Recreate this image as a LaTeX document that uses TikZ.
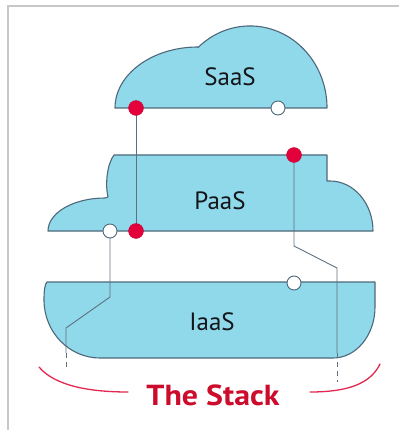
\documentclass[tikz,border=0pt]{standalone}
\usepackage{fontspec}
\setmainfont{PT Sans}
\begin{document}
\begin{tikzpicture}[x=1pt,y=1pt,
  layer/.style={fill=cloudblue, draw=outline, line width=1.1pt, line join=round},
  link/.style={draw=linkgray, line width=0.9pt},
  linkdash/.style={draw=linkgray, line width=0.9pt, dash pattern=on 5pt off 4pt},
  reddot/.style={circle, fill=dotred, draw=dotred!80!black, line width=0.3pt, minimum size=15pt, inner sep=0pt},
  whitedot/.style={circle, fill=white, draw=outline, line width=0.9pt, minimum size=14pt, inner sep=0pt},
  lbl/.style={text=labelblack, font=\fontsize{25}{28}\selectfont},
  brace/.style={draw=bracered, line width=1.3pt, line cap=round}]
\definecolor{cloudblue}{RGB}{143,217,234}
\definecolor{outline}{RGB}{78,104,122}
\definecolor{linkgray}{RGB}{96,112,126}
\definecolor{dotred}{RGB}{228,0,58}
\definecolor{bracered}{RGB}{226,40,80}
\definecolor{stackred}{RGB}{204,12,44}
\definecolor{labelblack}{RGB}{20,20,25}
\definecolor{framegray}{RGB}{200,200,200}
\useasboundingbox (0,0) rectangle (399,-430);
% frame
\draw[framegray, line width=1.5pt] (8,-430) -- (8,-6) -- (399,-6);
% SaaS cloud
\path[layer] (115,-108) arc[start angle=180, end angle=90, x radius=83, y radius=61]
  -- (198,-47.5) arc[start angle=132.5, end angle=0, x radius=77, y radius=82] -- cycle;
% PaaS cloud
\path[layer] (48,-231) arc[start angle=180, end angle=90, x radius=57, y radius=33]
  -- (108,-197) .. controls (105,-185) and (107,-164) .. (114,-155)
  -- (327,-155) -- (327,-181) -- (330,-181)
  arc[start angle=90, end angle=0, x radius=43, y radius=50] -- cycle;
% IaaS cloud
\path[layer] (47,-282) -- (375,-282) -- (375,-307)
  arc[start angle=0, end angle=-90, x radius=42, y radius=51]
  -- (100,-358) arc[start angle=270, end angle=180, x radius=56, y radius=58]
  .. controls (44,-290) and (45,-284) .. (47,-282) -- cycle;
% labels
\node[lbl] (saas) at (230,-77) {SaaS};
\node[lbl] (paas) at (220,-201) {PaaS};
\node[lbl] (iaas) at (212,-322) {IaaS};
% anchor points
\coordinate (sRed) at (136,-108);
\coordinate (sWhite) at (278,-108);
\coordinate (pTop) at (294,-155);
\coordinate (pRed) at (136,-231);
\coordinate (pWhite) at (110,-231);
\coordinate (iWhite) at (294,-283);
\coordinate (rA) at (294,-246);
\coordinate (rB) at (337,-268);
\coordinate (rC) at (337,-353);
\coordinate (rEnd) at (337,-382);
\coordinate (lA) at (110,-297);
\coordinate (lB) at (66,-328);
\coordinate (lC) at (66,-353);
\coordinate (lEnd) at (66,-367);
% connectors
\draw[link] (sRed) -- (pRed);
\draw[link] (pTop) -- (rA) -- (rB) -- (rC);
\draw[linkdash] (rC) -- (rEnd);
\draw[link] (pWhite) -- (lA) -- (lB) -- (lC);
\draw[linkdash] (lC) -- (lEnd);
% dots
\node[reddot] (dS) at (sRed) {};
\node[whitedot] (wS) at (sWhite) {};
\node[reddot] (dP) at (pTop) {};
\node[reddot] (dP2) at (pRed) {};
\node[whitedot] (wP) at (pWhite) {};
\node[whitedot] (wI) at (iWhite) {};
% stack brace
\node[text=stackred, font=\fontsize{29}{32}\selectfont\bfseries, xscale=1.1, transform shape] (stack) at (213,-395) {The Stack};
\coordinate (bL0) at (39,-367);
\coordinate (bL1) at (128,-392);
\coordinate (bR0) at (310,-392);
\coordinate (bR1) at (380,-364);
\draw[brace] (bL0) .. controls (55,-386) and (90,-392) .. (bL1);
\draw[brace] (bR0) .. controls (345,-392) and (370,-385) .. (bR1);
\end{tikzpicture}
\end{document}
